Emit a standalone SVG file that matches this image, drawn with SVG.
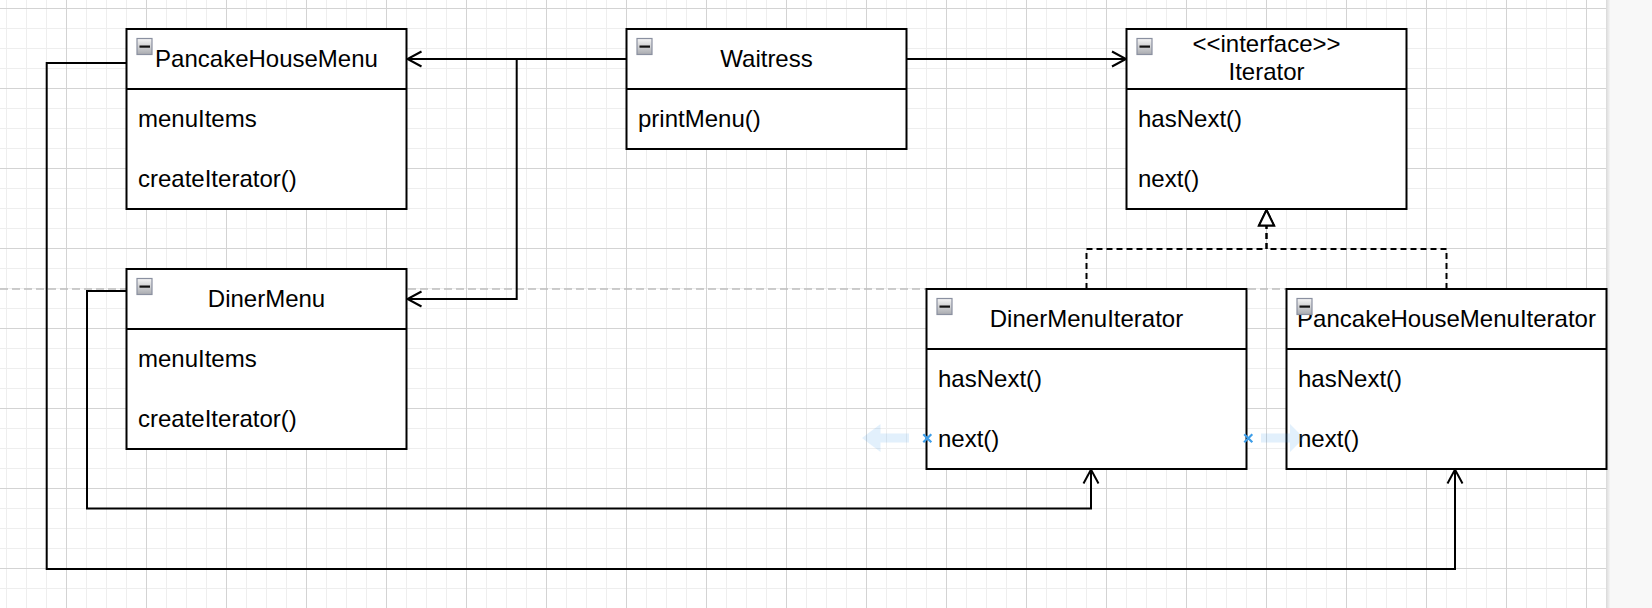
<svg xmlns="http://www.w3.org/2000/svg" width="1652" height="608" viewBox="0 0 1652 608">
  <style>
    .box { fill: #ffffff; stroke: #000000; stroke-width: 2; }
    .div { stroke: #000000; stroke-width: 2; }
    .t { font-family: "Liberation Sans", Arial, Helvetica, sans-serif; font-size: 24px; fill: #000000; }
    .c { text-anchor: middle; }
    .edge { fill: none; stroke: #000000; stroke-width: 2; }
    .assoc { marker-end: url(#open); }
    .real { stroke-dasharray: 6 4; marker-end: url(#tri); }
    .hover { fill: #3d9be9; fill-opacity: 0.15; }
    .xmark { stroke: #3d9de8; stroke-width: 2.2; fill: none; }
  </style>
  <defs>
    <pattern id="grid" x="6" y="8" width="80" height="80" patternUnits="userSpaceOnUse">
      <path d="M0 20.5H80M0 40.5H80M0 60.5H80M0.5 0V80M20.5 0V80M40.5 0V80" stroke="#eeeeee" stroke-width="1" fill="none"/>
      <path d="M0 0.5H80M60.5 0V80" stroke="#d3d3d3" stroke-width="1" fill="none"/>
    </pattern>
    <linearGradient id="iconGrad" x1="0" y1="0" x2="0" y2="1">
      <stop offset="0" stop-color="#f6f6f6"/>
      <stop offset="1" stop-color="#a9abb0"/>
    </linearGradient>
    <linearGradient id="shadow" x1="0" y1="0" x2="1" y2="0">
      <stop offset="0" stop-color="#d9d9d9"/>
      <stop offset="1" stop-color="#f8f8f8"/>
    </linearGradient>
    <g id="icon">
      <rect x="0.5" y="0.5" width="15" height="16" fill="url(#iconGrad)" stroke="#8a90a0" stroke-width="1.2"/>
      <rect x="3" y="7.5" width="10.5" height="2.2" fill="#111111"/>
    </g>
    <marker id="open" markerUnits="userSpaceOnUse" markerWidth="20" markerHeight="20" refX="16" refY="10" orient="auto" overflow="visible">
      <path d="M2 2.5L16 10L2 17.5" fill="none" stroke="#000000" stroke-width="2"/>
    </marker>
    <marker id="tri" markerUnits="userSpaceOnUse" markerWidth="20" markerHeight="20" refX="17" refY="10" orient="auto" overflow="visible">
      <path d="M17 10L1.5 2.5L1.5 17.5Z" fill="#ffffff" stroke="#000000" stroke-width="2" stroke-linejoin="miter"/>
    </marker>
  </defs>

  <!-- background -->
  <rect x="0" y="0" width="1652" height="608" fill="#f8f8f8"/>
  <rect x="0" y="0" width="1606" height="608" fill="#ffffff"/>
  <rect x="0" y="0" width="1606" height="608" fill="url(#grid)"/>
  <rect x="1606" y="0" width="4.5" height="608" fill="url(#shadow)"/>
  <line x1="0" y1="289" x2="1606" y2="289" stroke="#bdbdbd" stroke-width="1.5" stroke-dasharray="8 4"/>

  <g id="connectors">
    <path class="edge assoc" d="M626.5 59H407.5"/>
    <path class="edge assoc" d="M626.5 59H516.7V299H407.5"/>
    <path class="edge assoc" d="M906.5 59H1126"/>
    <path class="edge real" d="M1086.5 289V249H1266.5V210"/>
    <path class="edge real" d="M1446.5 289V249H1266.5V210"/>
    <path class="edge assoc" d="M126.5 291H87V508.5H1091V469.5"/>
    <path class="edge assoc" d="M126.5 63H46.7V569H1455V469.5"/>
  </g>

  <g id="pancakeHouseMenu">
    <rect class="box" x="126.5" y="29" width="280" height="180"/>
    <line class="div" x1="126.5" y1="89" x2="406.5" y2="89"/>
    <text class="t c" x="266.5" y="67">PancakeHouseMenu</text>
    <text class="t" x="138" y="127">menuItems</text>
    <text class="t" x="138" y="187">createIterator()</text>
    <use href="#icon" x="136.5" y="38"/>
  </g>

  <g id="waitress">
    <rect class="box" x="626.5" y="29" width="280" height="120"/>
    <line class="div" x1="626.5" y1="89" x2="906.5" y2="89"/>
    <text class="t c" x="766.5" y="67">Waitress</text>
    <text class="t" x="638" y="127">printMenu()</text>
    <use href="#icon" x="636.5" y="38"/>
  </g>

  <g id="iterator">
    <rect class="box" x="1126.5" y="29" width="280" height="180"/>
    <line class="div" x1="1126.5" y1="89" x2="1406.5" y2="89"/>
    <text class="t c" x="1266.5" y="52">&lt;&lt;interface&gt;&gt;</text>
    <text class="t c" x="1266.5" y="80">Iterator</text>
    <text class="t" x="1138" y="127">hasNext()</text>
    <text class="t" x="1138" y="187">next()</text>
    <use href="#icon" x="1136.5" y="38"/>
  </g>

  <g id="dinerMenu">
    <rect class="box" x="126.5" y="269" width="280" height="180"/>
    <line class="div" x1="126.5" y1="329" x2="406.5" y2="329"/>
    <text class="t c" x="266.5" y="307">DinerMenu</text>
    <text class="t" x="138" y="367">menuItems</text>
    <text class="t" x="138" y="427">createIterator()</text>
    <use href="#icon" x="136.5" y="278"/>
  </g>

  <g id="dinerMenuIterator">
    <rect class="box" x="926.5" y="289" width="320" height="180"/>
    <line class="div" x1="926.5" y1="349" x2="1246.5" y2="349"/>
    <text class="t c" x="1086.5" y="327">DinerMenuIterator</text>
    <text class="t" x="938" y="387">hasNext()</text>
    <text class="t" x="938" y="447">next()</text>
    <use href="#icon" x="936.5" y="298"/>
  </g>

  <g id="pancakeHouseMenuIterator">
    <rect class="box" x="1286.5" y="289" width="320" height="180"/>
    <line class="div" x1="1286.5" y1="349" x2="1606.5" y2="349"/>
    <text class="t c" x="1446.5" y="327">PancakeHouseMenuIterator</text>
    <text class="t" x="1298" y="387">hasNext()</text>
    <text class="t" x="1298" y="447">next()</text>
    <use href="#icon" x="1296.5" y="298"/>
  </g>

  <!-- hover indicators -->
  <polygon class="hover" points="862,438 880.5,424 880.5,433.5 909,433.5 909,442.5 880.5,442.5 880.5,452"/>
  <polygon class="hover" points="1304,438 1290,424 1290,433.5 1261,433.5 1261,442.5 1290,442.5 1290,452"/>
  <path class="xmark" d="M923.3 434.3L931.3 442.3M931.3 434.3L923.3 442.3"/>
  <path class="xmark" d="M1244.3 434.3L1252.3 442.3M1252.3 434.3L1244.3 442.3"/>
</svg>
